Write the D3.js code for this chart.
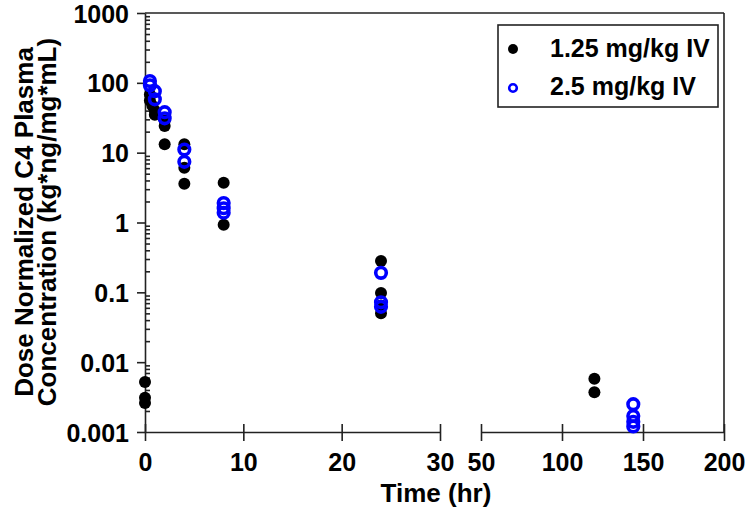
<!DOCTYPE html>
<html>
<head>
<meta charset="utf-8">
<script src="https://cdn.jsdelivr.net/npm/d3@7"></script>
<style>
  html, body { margin: 0; padding: 0; background: #fff; }
  svg { display: block; font-family: "Liberation Sans", Arial, sans-serif; font-weight: bold; }
</style>
</head>
<body>
<svg id="chart" width="750" height="511"></svg>
<script>
// ---- data ----
const seriesNames = ["1.25 mg/kg IV", "2.5 mg/kg IV"];
const timesLow = [0, 0, 0, 0.5, 0.5, 0.75, 1, 1, 2, 2, 2, 4, 4, 4, 8, 8, 24, 24, 24, 24, 120, 120];
const concLow  = [0.0052, 0.0031, 0.0026, 68, 56, 47, 40, 35, 29, 24, 13.2, 13.2, 6.1, 3.6, 3.7, 0.93, 0.28, 0.098, 0.065, 0.050, 0.0058, 0.0037];
const timesHigh = [0.5, 0.5, 1, 1, 2, 2, 4, 4, 8, 8, 8, 24, 24, 24, 144, 144, 144, 144];
const concHigh  = [106, 92, 76, 58, 38, 31, 11.1, 7.4, 1.9, 1.6, 1.38, 0.19, 0.072, 0.062, 0.0025, 0.0017, 0.0014, 0.0012];
const yTicks = [0.001, 0.01, 0.1, 1, 10, 100, 1000];
const yTickLabels = ["0.001", "0.01", "0.1", "1", "10", "100", "1000"];
const xTicksLeft = [0, 10, 20, 30];
const xTicksRight = [50, 100, 150, 200];

// ---- layout ----
const svg = d3.select("#chart");
const yTop = 13, yBottom = 432;
const xL = d3.scaleLinear().domain([0, 30]).range([145, 440]);
const xR = d3.scaleLinear().domain([50, 200]).range([481, 724]);
const y = d3.scaleLog().domain([0.001, 1000]).range([yBottom, yTop]);
const xOf = t => t <= 30 ? xL(t) : xR(t);
const ink = "#222";
const blue = "#0000ff";

// frame lines (top + right)
svg.append("line").attr("x1", 145).attr("x2", 724).attr("y1", yTop).attr("y2", yTop)
  .attr("stroke", ink).attr("stroke-width", 1.6);
svg.append("line").attr("x1", 724).attr("x2", 724).attr("y1", yTop).attr("y2", yBottom)
  .attr("stroke", ink).attr("stroke-width", 1.6);

// y axis minor ticks
const minor = [];
for (let e = -3; e < 3; e++) for (let m = 2; m <= 9; m++) minor.push(m * Math.pow(10, e));
const gMinor = svg.append("g").attr("transform", "translate(145,0)")
  .call(d3.axisLeft(y).tickValues(minor).tickSize(-5).tickFormat(""));
gMinor.select(".domain").remove();
gMinor.selectAll("line").attr("stroke", ink).attr("stroke-width", 1.6);

// y axis major
const gy = svg.append("g").attr("transform", "translate(145,0)")
  .call(d3.axisLeft(y).tickValues(yTicks).tickSize(8).tickSizeOuter(0)
    .tickFormat((d, i) => yTickLabels[i]));
gy.select(".domain").attr("stroke", ink).attr("stroke-width", 1.6);
gy.selectAll(".tick line").attr("stroke", ink).attr("stroke-width", 1.6);
gy.selectAll(".tick text").attr("font-size", 25).attr("font-family", "Liberation Sans, Arial, sans-serif")
  .attr("font-weight", "bold").attr("fill", "#000").attr("x", -16).attr("dy", "0.36em");

// x axes (broken)
function xAxis(scale, ticks) {
  const g = svg.append("g").attr("transform", `translate(0,${yBottom})`)
    .call(d3.axisBottom(scale).tickValues(ticks).tickSize(8).tickSizeOuter(0));
  g.select(".domain").attr("stroke", ink).attr("stroke-width", 1.6);
  g.selectAll(".tick line").attr("y1", -8).attr("y2", 9).attr("stroke", ink).attr("stroke-width", 1.6);
  g.selectAll(".tick text").attr("font-size", 25).attr("font-family", "Liberation Sans, Arial, sans-serif")
    .attr("font-weight", "bold").attr("fill", "#000").attr("y", 39).attr("dy", 0);
  return g;
}
xAxis(xL, xTicksLeft);
xAxis(xR, xTicksRight);

// axis titles
svg.append("text").attr("x", 436).attr("y", 502).attr("text-anchor", "middle")
  .attr("font-size", 26).text("Time (hr)");
const yt = svg.append("text").attr("transform", "translate(0,222) rotate(-90)")
  .attr("text-anchor", "middle").attr("font-size", 26);
yt.append("tspan").attr("x", 0).attr("y", 33).text("Dose Normalized C4 Plasma");
yt.append("tspan").attr("x", 0).attr("y", 56).text("Concentration (kg*ng/mg*mL)");

// points
const low = timesLow.map((t, i) => ({ t, c: concLow[i] }));
const high = timesHigh.map((t, i) => ({ t, c: concHigh[i] }));
svg.append("g").selectAll("circle").data(low).join("circle")
  .attr("cx", d => xOf(d.t)).attr("cy", d => y(d.c)).attr("r", 6).attr("fill", "#000");
svg.append("g").selectAll("circle").data(high).join("circle")
  .attr("cx", d => xOf(d.t)).attr("cy", d => y(d.c)).attr("r", 5.3)
  .attr("fill", "none").attr("stroke", blue).attr("stroke-width", 3.6);

// legend
const lg = svg.append("g");
lg.append("rect").attr("x", 498).attr("y", 25).attr("width", 220).attr("height", 82)
  .attr("fill", "#fff").attr("stroke", ink).attr("stroke-width", 1.6);
lg.append("circle").attr("cx", 513).attr("cy", 49).attr("r", 5).attr("fill", "#000");
lg.append("circle").attr("cx", 513).attr("cy", 88).attr("r", 3.8).attr("fill", "none")
  .attr("stroke", blue).attr("stroke-width", 2.6);
lg.append("text").attr("x", 550).attr("y", 57).attr("font-size", 25).text(seriesNames[0]);
lg.append("text").attr("x", 550).attr("y", 95).attr("font-size", 25).text(seriesNames[1]);
</script>
</body>
</html>
